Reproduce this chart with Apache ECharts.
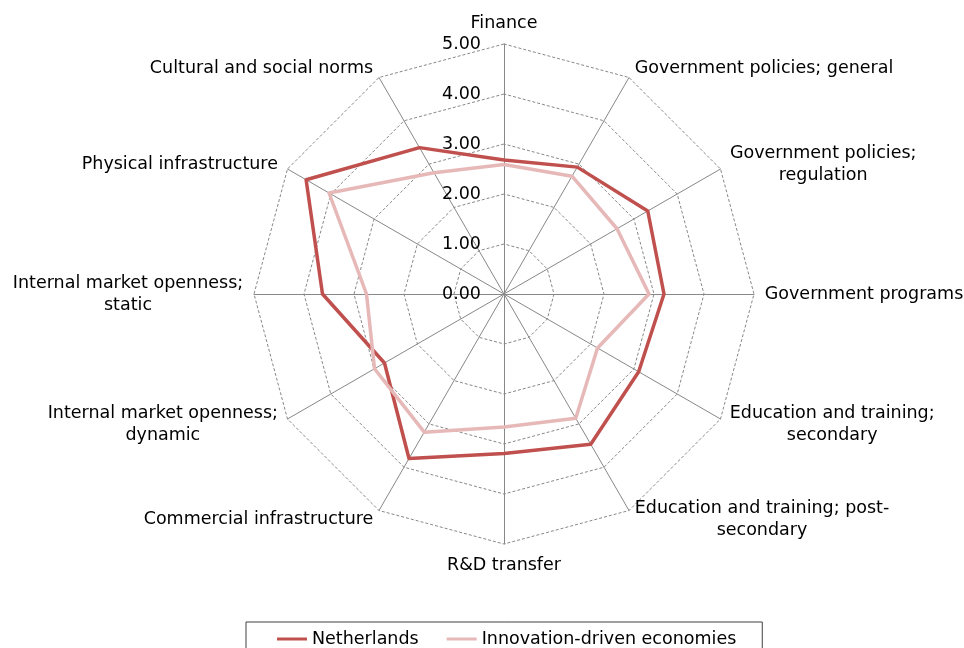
<!DOCTYPE html>
<html>
<head>
<meta charset="utf-8">
<script src="https://cdn.jsdelivr.net/npm/echarts@6/dist/echarts.min.js"></script>
<style>
  html, body { margin: 0; padding: 0; background: #fff; }
  #chart { width: 964px; height: 648px; }
</style>
</head>
<body>
<div id="chart"></div>
<script>
// Pillars, listed counter-clockwise from the top (radar draws indicators in that direction)
const categories = [
  'Finance',
  'Cultural and social norms',
  'Physical infrastructure',
  'Internal market openness;\nstatic',
  'Internal market openness;\ndynamic',
  'Commercial infrastructure',
  'R&D transfer',
  'Education and training; post-\nsecondary',
  'Education and training;\nsecondary',
  'Government programs',
  'Government policies;\nregulation',
  'Government policies; general'
];

const netherlands = [2.68, 3.38, 4.57, 3.63, 2.76, 3.80, 3.19, 3.47, 3.11, 3.20, 3.32, 2.93];
const innovationDriven = [2.59, 2.80, 4.04, 2.75, 2.99, 3.19, 2.66, 2.87, 2.16, 2.90, 2.61, 2.72];

const seriesNames = ['Netherlands', 'Innovation-driven economies'];
const seriesColors = ['#c0504d', '#e6b9b8'];
const scaleMin = 0;
const scaleMax = 5;

const FONT = '"DejaVu Sans", Verdana, sans-serif';
const FONT_SIZE = 17.5;

// Measure each label so multi-line names can be centred line by line
const measureCtx = document.createElement('canvas').getContext('2d');
measureCtx.font = FONT_SIZE + 'px "DejaVu Sans"';
const rich = {};
categories.forEach(function (name, i) {
  const w = Math.max.apply(null, name.split('\n').map(function (s) {
    return measureCtx.measureText(s).width;
  }));
  rich['n' + i] = {
    width: Math.ceil(w) + 1,
    align: 'center',
    fontFamily: FONT,
    fontSize: FONT_SIZE,
    color: '#000',
    lineHeight: 22
  };
});

const indicator = categories.map(function (name, i) {
  const ind = { name: name, min: scaleMin, max: scaleMax };
  if (i === 0) {
    ind.axisLabel = {
      show: true,
      margin: 23,
      fontFamily: FONT,
      fontSize: FONT_SIZE,
      color: '#000',
      formatter: function (v) { return Number(v).toFixed(2); }
    };
  }
  return ind;
});

const chart = echarts.init(document.getElementById('chart'), null, { renderer: 'canvas' });

chart.setOption({
  backgroundColor: '#ffffff',
  animation: false,
  color: seriesColors,
  textStyle: { fontFamily: FONT },
  legend: {
    data: seriesNames,
    left: 246,
    top: 622,
    orient: 'horizontal',
    padding: [8, 26, 12, 31],
    itemGap: 28,
    itemWidth: 30,
    itemHeight: 3,
    icon: 'rect',
    borderColor: '#404040',
    borderWidth: 1,
    textStyle: { fontFamily: FONT, fontSize: FONT_SIZE, color: '#000' }
  },
  radar: {
    center: [504, 294],
    radius: 250,
    startAngle: 90,
    shape: 'polygon',
    splitNumber: 5,
    nameGap: 10,
    indicator: indicator,
    axisName: {
      color: '#000',
      fontFamily: FONT,
      fontSize: FONT_SIZE,
      formatter: function (value) {
        const idx = categories.indexOf(value);
        return value.split('\n').map(function (s) {
          return '{n' + idx + '|' + s + '}';
        }).join('\n');
      },
      rich: rich
    },
    axisLine: { lineStyle: { color: '#888888', width: 1 } },
    splitLine: { lineStyle: { color: '#888888', width: 1, type: [3, 2] } },
    splitArea: { show: false },
    axisTick: { show: false },
    axisLabel: { show: false }
  },
  series: [
    {
      type: 'radar',
      name: seriesNames[0],
      symbol: 'none',
      z: 2,
      itemStyle: { color: seriesColors[0] },
      lineStyle: { color: seriesColors[0], width: 3.5 },
      data: [{ name: seriesNames[0], value: netherlands }]
    },
    {
      type: 'radar',
      name: seriesNames[1],
      symbol: 'none',
      z: 3,
      itemStyle: { color: seriesColors[1] },
      lineStyle: { color: seriesColors[1], width: 3.5 },
      data: [{ name: seriesNames[1], value: innovationDriven }]
    }
  ]
});
</script>
</body>
</html>
